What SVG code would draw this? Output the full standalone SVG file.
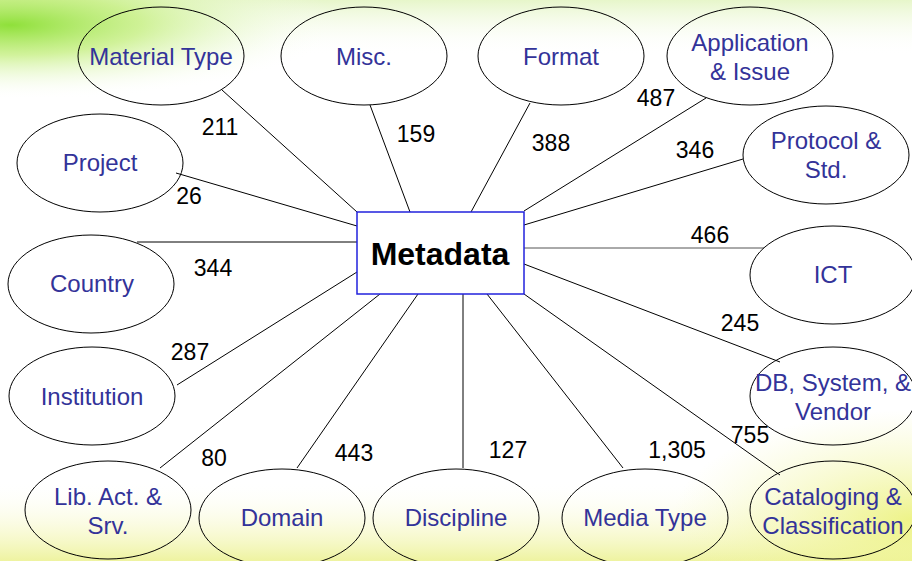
<svg xmlns="http://www.w3.org/2000/svg" width="912" height="561" viewBox="0 0 912 561">
<defs>
<radialGradient id="gTop" cx="0" cy="0" r="1" gradientUnits="userSpaceOnUse" gradientTransform="translate(10 25) scale(330 75)">
<stop offset="0" stop-color="#8fe03a" stop-opacity="1"/>
<stop offset="0.4" stop-color="#c2ee7a" stop-opacity="0.75"/>
<stop offset="1" stop-color="#ffffff" stop-opacity="0"/>
</radialGradient>
<linearGradient id="gTopBand" x1="0" y1="0" x2="0" y2="1">
<stop offset="0" stop-color="#e4f5c4" stop-opacity="0.9"/>
<stop offset="1" stop-color="#ffffff" stop-opacity="0"/>
</linearGradient>
<linearGradient id="gBot" x1="0" y1="0" x2="0" y2="1">
<stop offset="0" stop-color="#ffffff" stop-opacity="0"/>
<stop offset="0.6" stop-color="#f6f8c4" stop-opacity="0.6"/>
<stop offset="1" stop-color="#eef3a0" stop-opacity="1"/>
</linearGradient>
<radialGradient id="gBotR" cx="0" cy="0" r="1" gradientUnits="userSpaceOnUse" gradientTransform="translate(912 520) scale(240 110)">
<stop offset="0" stop-color="#ecf27e" stop-opacity="0.9"/>
<stop offset="1" stop-color="#f4f7b0" stop-opacity="0"/>
</radialGradient>
</defs>
<style>
.n ellipse{fill:none;stroke:#000;stroke-width:1}
.n text{font-family:"Liberation Sans",Arial,sans-serif;font-size:24px;fill:#333399;text-anchor:middle}
.c line{stroke:#000;stroke-width:1}
.lb text{font-family:"Liberation Sans",Arial,sans-serif;font-size:23px;fill:#000;text-anchor:middle}
</style>
<rect width="912" height="561" fill="#ffffff"/>
<rect width="912" height="55" fill="url(#gTopBand)"/>
<rect width="912" height="200" fill="url(#gTop)"/>
<rect y="480" width="912" height="81" fill="url(#gBot)"/>
<rect y="380" width="912" height="181" fill="url(#gBotR)"/>

<g id="connectors" class="c">
<line x1="222" y1="90" x2="357" y2="212"/>
<line x1="370" y1="105" x2="410" y2="212"/>
<line x1="530" y1="103" x2="471" y2="212"/>
<line x1="706" y1="98" x2="524" y2="211"/>
<line x1="743" y1="159" x2="524" y2="225"/>
<line x1="524" y1="248" x2="764" y2="248" style="stroke:#555"/>
<line x1="524" y1="264" x2="780" y2="362"/>
<line x1="524" y1="294" x2="780" y2="475"/>
<line x1="487" y1="294" x2="623" y2="468"/>
<line x1="463" y1="294" x2="463" y2="468"/>
<line x1="418" y1="294" x2="297" y2="468"/>
<line x1="380" y1="294" x2="160" y2="468"/>
<line x1="357" y1="272" x2="177" y2="385"/>
<line x1="137" y1="242" x2="357" y2="242"/>
<line x1="176" y1="173" x2="357" y2="226"/>
</g>

<g id="labels" class="lb">
<text x="220" y="135">211</text>
<text x="416" y="142">159</text>
<text x="551" y="151">388</text>
<text x="656" y="106">487</text>
<text x="695" y="158">346</text>
<text x="189" y="204">26</text>
<text x="710" y="243">466</text>
<text x="213" y="276">344</text>
<text x="740" y="331">245</text>
<text x="190" y="360">287</text>
<text x="214" y="466">80</text>
<text x="354" y="461">443</text>
<text x="508" y="458">127</text>
<text x="677" y="458">1,305</text>
<text x="750" y="443">755</text>
</g>

<g id="metadata">
<rect x="357" y="212" width="167" height="82" fill="#ffffff" stroke="#2222dd" stroke-width="1.5"/>
<text x="440" y="265" font-family="'Liberation Sans',Arial,sans-serif" font-size="32" font-weight="bold" text-anchor="middle" fill="#000">Metadata</text>
</g>

<g id="material-type" class="n"><ellipse cx="161" cy="56" rx="83" ry="49"/><text x="161" y="65">Material Type</text></g>
<g id="misc" class="n"><ellipse cx="364" cy="56" rx="83" ry="49"/><text x="364" y="65">Misc.</text></g>
<g id="format" class="n"><ellipse cx="561" cy="56" rx="83" ry="49"/><text x="561" y="65">Format</text></g>
<g id="application" class="n"><ellipse cx="750" cy="56" rx="83" ry="49"/><text x="750" y="51">Application</text><text x="750" y="80">&amp; Issue</text></g>
<g id="project" class="n"><ellipse cx="100" cy="163" rx="83" ry="49"/><text x="100" y="171">Project</text></g>
<g id="protocol" class="n"><ellipse cx="826" cy="155" rx="83" ry="49"/><text x="826" y="149">Protocol &amp;</text><text x="826" y="178">Std.</text></g>
<g id="country" class="n"><ellipse cx="91" cy="284" rx="83" ry="49"/><text x="92" y="292">Country</text></g>
<g id="ict" class="n"><ellipse cx="833" cy="275" rx="83" ry="49"/><text x="833" y="283">ICT</text></g>
<g id="institution" class="n"><ellipse cx="92" cy="396" rx="83" ry="49"/><text x="92" y="405">Institution</text></g>
<g id="db-system" class="n"><ellipse cx="833" cy="396" rx="83" ry="49"/><text x="833" y="391">DB, System, &amp;</text><text x="833" y="420">Vendor</text></g>
<g id="lib-act" class="n"><ellipse cx="108" cy="510" rx="83" ry="49"/><text x="108" y="505">Lib. Act. &amp;</text><text x="108" y="534">Srv.</text></g>
<g id="domain" class="n"><ellipse cx="282" cy="518" rx="83" ry="49"/><text x="282" y="526">Domain</text></g>
<g id="discipline" class="n"><ellipse cx="456" cy="518" rx="83" ry="49"/><text x="456" y="526">Discipline</text></g>
<g id="media-type" class="n"><ellipse cx="645" cy="518" rx="83" ry="49"/><text x="645" y="526">Media Type</text></g>
<g id="cataloging" class="n"><ellipse cx="833" cy="510" rx="83" ry="49"/><text x="833" y="505">Cataloging &amp;</text><text x="833" y="534">Classification</text></g>
</svg>
